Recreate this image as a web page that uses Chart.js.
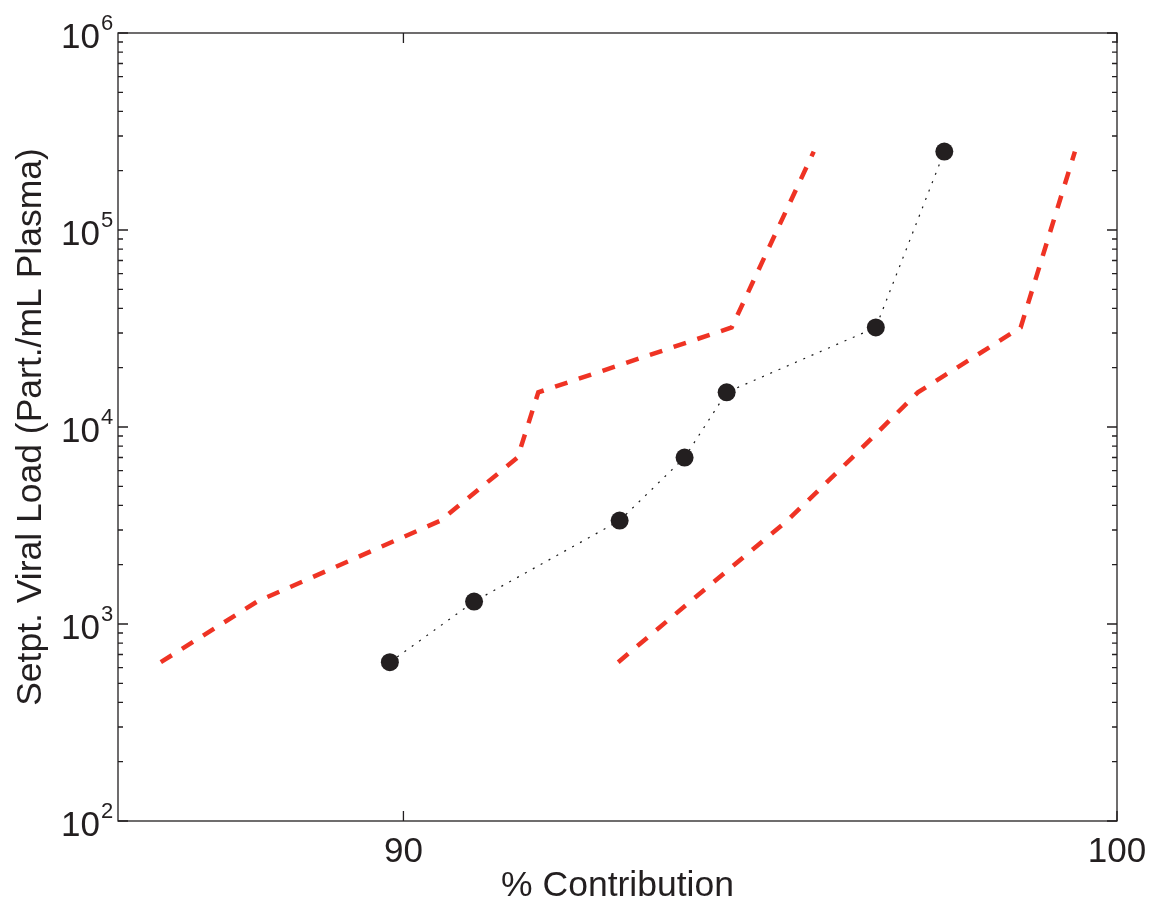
<!DOCTYPE html>
<html>
<head>
<meta charset="utf-8">
<script src="https://cdn.jsdelivr.net/npm/chart.js@4.4.1/dist/chart.umd.min.js"></script>
<style>
  html, body { margin: 0; padding: 0; background: #fff; }
  canvas { display: block; }
</style>
</head>
<body>
<canvas id="chart" width="1150" height="899"></canvas>
<script>
// setpoint viral load for each step, shared by the three series
var viralLoad = [640, 1300, 3350, 7000, 15000, 32000, 250000];
var meanContribution = [89.81, 90.99, 93.03, 93.94, 94.53, 96.62, 97.58];
var lowerContribution = [86.6, 87.95, 90.52, 91.6, 91.89, 94.6, 95.75];
var upperContribution = [93.01, 94.02, 95.38, 96.29, 97.21, 98.65, 99.41];

var xTicks = [90, 100];
var yTicks = [100, 1000, 10000, 100000, 1000000];
var yTickExponents = ['2', '3', '4', '5', '6'];

var ink = '#231f20';
var red = '#ef3324';
var font = '"Liberation Sans", Arial, Helvetica, sans-serif';

function toPoints(xs, ys) {
  var pts = [];
  for (var i = 0; i < xs.length; i++) {
    pts.push({ x: xs[i], y: ys[i] });
  }
  return pts;
}

// matlab style box: inward ticks on all four sides, 10^n labels
var axesPlugin = {
  id: 'matlabAxes',
  afterDraw: function (chart) {
    var ctx = chart.ctx;
    var a = chart.chartArea;
    var xs = chart.scales.x;
    var ys = chart.scales.y;

    ctx.save();
    ctx.strokeStyle = ink;
    ctx.lineWidth = 1.3;
    ctx.strokeRect(a.left, a.top, a.right - a.left, a.bottom - a.top);

    ctx.beginPath();
    for (var i = 0; i < yTicks.length; i++) {
      var py = ys.getPixelForValue(yTicks[i]);
      ctx.moveTo(a.left, py); ctx.lineTo(a.left + 10, py);
      ctx.moveTo(a.right, py); ctx.lineTo(a.right - 10, py);
      if (i < yTicks.length - 1) {
        for (var m = 2; m < 10; m++) {
          var pm = ys.getPixelForValue(yTicks[i] * m);
          ctx.moveTo(a.left, pm); ctx.lineTo(a.left + 5, pm);
          ctx.moveTo(a.right, pm); ctx.lineTo(a.right - 5, pm);
        }
      }
    }
    for (var j = 0; j < xTicks.length; j++) {
      var px = xs.getPixelForValue(xTicks[j]);
      ctx.moveTo(px, a.bottom); ctx.lineTo(px, a.bottom - 10);
      ctx.moveTo(px, a.top); ctx.lineTo(px, a.top + 10);
    }
    ctx.stroke();

    ctx.fillStyle = ink;
    // y tick labels
    for (var k = 0; k < yTicks.length; k++) {
      var ty = ys.getPixelForValue(yTicks[k]);
      ctx.font = '35px ' + font;
      ctx.textAlign = 'right';
      ctx.textBaseline = 'alphabetic';
      ctx.fillText('10', a.left - 18, ty + 15);
      ctx.font = '22px ' + font;
      ctx.textAlign = 'left';
      ctx.fillText(yTickExponents[k], a.left - 17, ty - 3);
    }
    // x tick labels
    ctx.font = '35px ' + font;
    ctx.textAlign = 'center';
    for (var n = 0; n < xTicks.length; n++) {
      ctx.fillText(String(xTicks[n]), xs.getPixelForValue(xTicks[n]), a.bottom + 41);
    }

    // axis titles
    ctx.font = '35.5px ' + font;
    ctx.fillText('% Contribution', (a.left + a.right) / 2, 896);
    ctx.save();
    ctx.translate(41, (a.top + a.bottom) / 2);
    ctx.rotate(-Math.PI / 2);
    ctx.fillText('Setpt. Viral Load (Part./mL Plasma)', 0, 0);
    ctx.restore();

    ctx.restore();
  }
};

new Chart(document.getElementById('chart'), {
  type: 'scatter',
  data: {
    datasets: [
      {
        label: 'Mean',
        data: toPoints(meanContribution, viralLoad),
        showLine: true,
        borderColor: '#1a1a1a',
        borderWidth: 1.2,
        borderDash: [2, 7],
        pointRadius: 9,
        pointBackgroundColor: ink,
        pointBorderWidth: 0
      },
      {
        label: 'Lower',
        data: toPoints(lowerContribution, viralLoad),
        showLine: true,
        borderColor: red,
        borderWidth: 4.5,
        borderDash: [13, 12],
        pointRadius: 0
      },
      {
        label: 'Upper',
        data: toPoints(upperContribution, viralLoad),
        showLine: true,
        borderColor: red,
        borderWidth: 4.5,
        borderDash: [13, 12],
        pointRadius: 0
      }
    ]
  },
  options: {
    responsive: false,
    animation: false,
    layout: {
      padding: { left: 118, right: 33, top: 33, bottom: 78 }
    },
    plugins: {
      legend: { display: false },
      tooltip: { enabled: false }
    },
    scales: {
      x: { type: 'linear', min: 86, max: 100, display: false },
      y: { type: 'logarithmic', min: 100, max: 1000000, display: false }
    }
  },
  plugins: [axesPlugin]
});
</script>
</body>
</html>
